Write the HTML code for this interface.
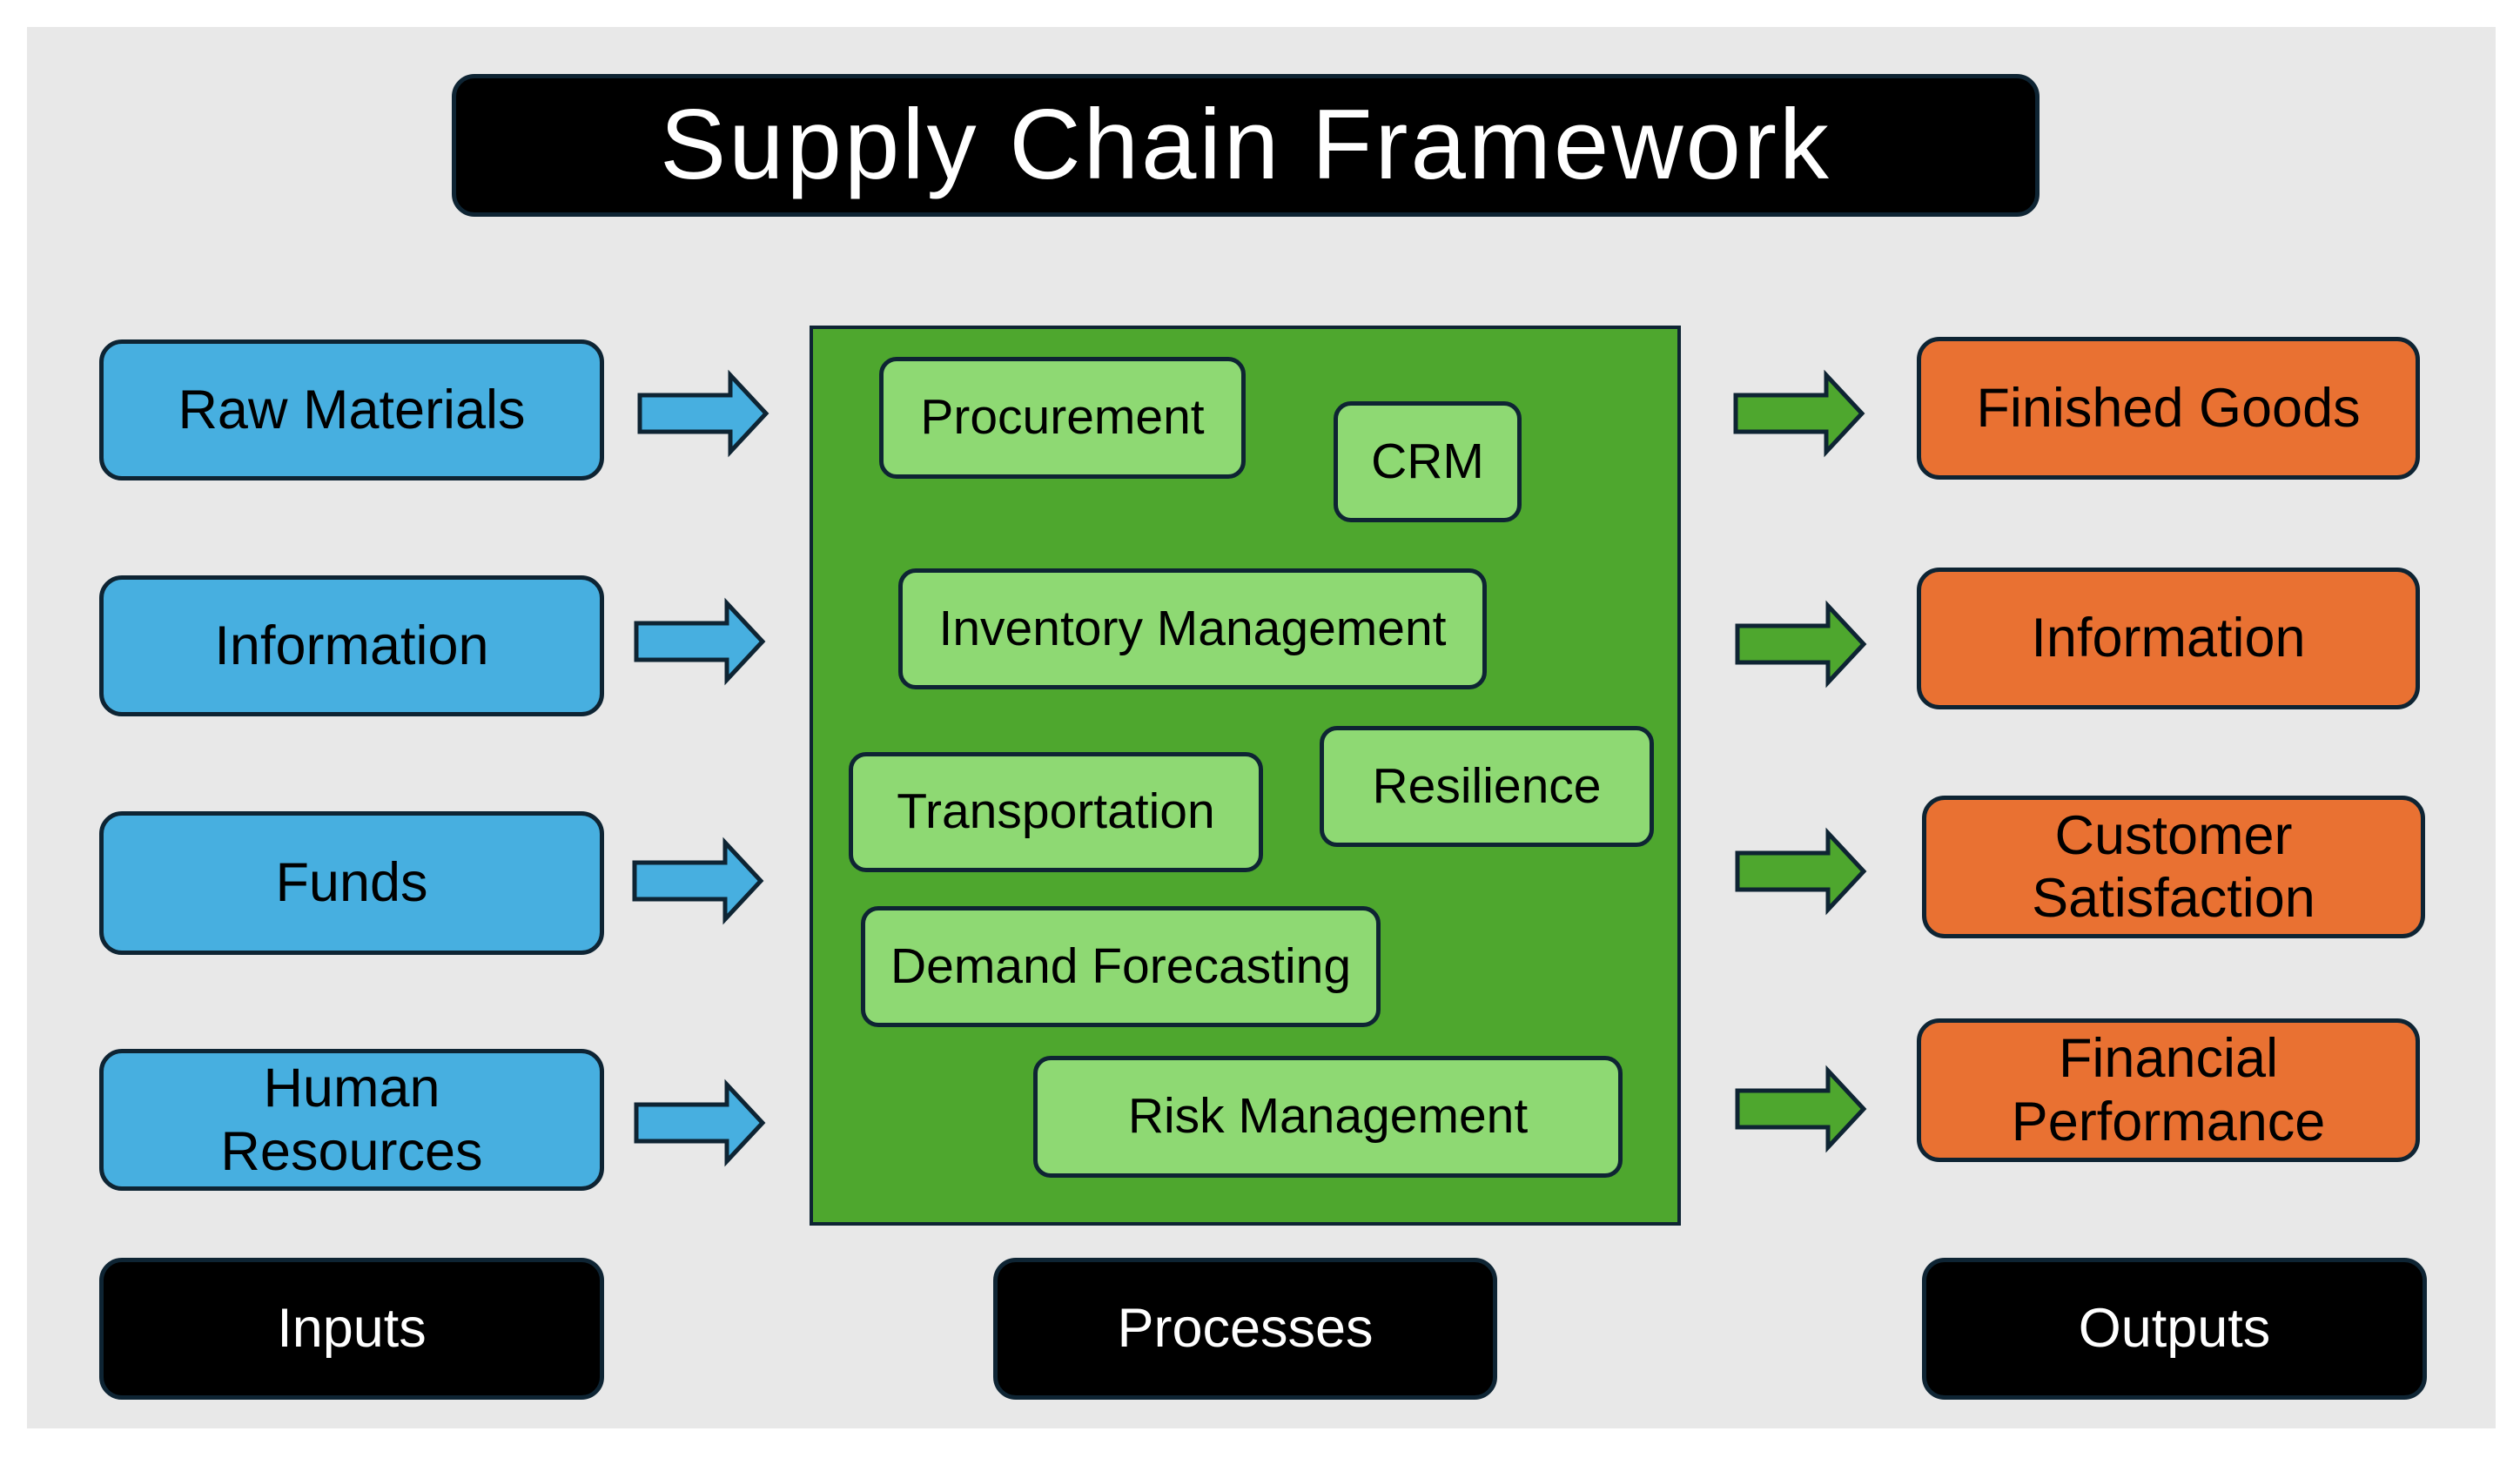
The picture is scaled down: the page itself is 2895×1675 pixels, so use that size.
<!DOCTYPE html>
<html><head><meta charset="utf-8"><style>
body{margin:0;width:2895px;height:1675px;background:#fff;position:relative;overflow:hidden;font-family:"Liberation Sans",sans-serif;}
.bg{position:absolute;left:31px;top:31px;width:2836px;height:1610px;background:#e8e8e8;}
.b{position:absolute;box-sizing:border-box;border:5px solid #0e2433;border-radius:26px;display:flex;align-items:center;justify-content:center;text-align:center;color:#000;line-height:1.15;}
.blue{background:#47afe0;font-size:63px;}
.org{background:#e97132;font-size:63px;}
.blk{background:#000;color:#fff;font-size:63px;}
.lg{background:#8ed973;font-size:57px;border-radius:20px;}
svg{position:absolute;left:0;top:0;}
</style></head><body>
<div class="bg"></div>
<div class="b blk" style="left:519px;top:85px;width:1824px;height:164px;font-size:114px;letter-spacing:3px;">Supply Chain Framework</div>

<div class="b blue" style="left:114px;top:390px;width:580px;height:162px;">Raw Materials</div>
<div class="b blue" style="left:114px;top:661px;width:580px;height:162px;">Information</div>
<div class="b blue" style="left:114px;top:932px;width:580px;height:165px;">Funds</div>
<div class="b blue" style="left:114px;top:1205px;width:580px;height:163px;">Human<br>Resources</div>
<div class="b blk" style="left:114px;top:1445px;width:580px;height:163px;">Inputs</div>

<div style="position:absolute;left:930px;top:374px;width:1001px;height:1034px;box-sizing:border-box;background:#4ea72e;border:4px solid #0e2433;"></div>
<div class="b lg" style="left:1010px;top:410px;width:421px;height:140px;">Procurement</div>
<div class="b lg" style="left:1532px;top:461px;width:216px;height:139px;">CRM</div>
<div class="b lg" style="left:1032px;top:653px;width:676px;height:139px;">Inventory Management</div>
<div class="b lg" style="left:975px;top:864px;width:476px;height:138px;">Transportation</div>
<div class="b lg" style="left:1516px;top:834px;width:384px;height:139px;">Resilience</div>
<div class="b lg" style="left:989px;top:1041px;width:597px;height:139px;">Demand Forecasting</div>
<div class="b lg" style="left:1187px;top:1213px;width:677px;height:140px;">Risk Management</div>
<div class="b blk" style="left:1141px;top:1445px;width:579px;height:163px;">Processes</div>

<div class="b org" style="left:2202px;top:387px;width:578px;height:164px;">Finished Goods</div>
<div class="b org" style="left:2202px;top:652px;width:578px;height:163px;">Information</div>
<div class="b org" style="left:2208px;top:914px;width:578px;height:164px;">Customer<br>Satisfaction</div>
<div class="b org" style="left:2202px;top:1170px;width:578px;height:165px;">Financial<br>Performance</div>
<div class="b blk" style="left:2208px;top:1445px;width:580px;height:163px;">Outputs</div>

<svg width="2895" height="1675" viewBox="0 0 2895 1675">
<defs>
<path id="ar" d="M0,-21 L104,-21 L104,-44 L145,0 L104,44 L104,21 L0,21 Z" stroke="#0e2433" stroke-width="5" stroke-linejoin="miter"/>
</defs>
<use href="#ar" x="735" y="475" fill="#47afe0"/>
<use href="#ar" x="731" y="737" fill="#47afe0"/>
<use href="#ar" x="729" y="1012" fill="#47afe0"/>
<use href="#ar" x="731" y="1290" fill="#47afe0"/>
<use href="#ar" x="1994" y="475" fill="#4ea72e"/>
<use href="#ar" x="1996" y="740" fill="#4ea72e"/>
<use href="#ar" x="1996" y="1001" fill="#4ea72e"/>
<use href="#ar" x="1996" y="1274" fill="#4ea72e"/>
</svg>
</body></html>
